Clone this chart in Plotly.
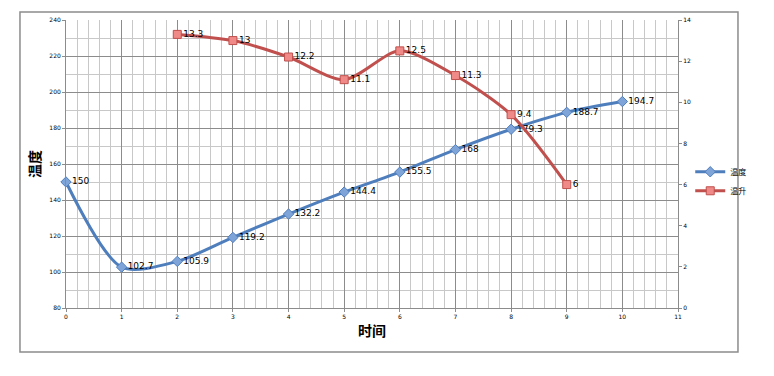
import plotly.graph_objects as go

time_temp = [0, 1, 2, 3, 4, 5, 6, 7, 8, 9, 10]
temperature = [150, 102.7, 105.9, 119.2, 132.2, 144.4, 155.5, 168, 179.3, 188.7, 194.7]
time_rise = [2, 3, 4, 5, 6, 7, 8, 9]
temp_rise = [13.3, 13, 12.2, 11.1, 12.5, 11.3, 9.4, 6]

fig = go.Figure()
fig.add_trace(go.Scatter(
    x=time_temp, y=temperature, name="温度", mode="lines+markers+text",
    line=dict(color="#4F7EBD", width=3, shape="spline", smoothing=0.8),
    marker=dict(symbol="diamond", size=8, color="#7FA4D8", line=dict(color="#4F7EBD", width=1)),
    text=[str(v) for v in temperature], textposition="middle right",
    textfont=dict(family="DejaVu Sans", size=9, color="#000000"),
    cliponaxis=False,
))
fig.add_trace(go.Scatter(
    x=time_rise, y=temp_rise, name="温升", mode="lines+markers+text", yaxis="y2",
    line=dict(color="#C0504D", width=3, shape="spline", smoothing=0.8),
    marker=dict(symbol="square", size=8, color="#F08A88", line=dict(color="#C0504D", width=1)),
    text=[str(v) for v in temp_rise], textposition="middle right",
    textfont=dict(family="DejaVu Sans", size=9, color="#000000"),
    cliponaxis=False,
))

tickfont = dict(family="DejaVu Sans", size=6, color="#000000")
fig.update_layout(
    width=774, height=376,
    margin=dict(l=66, r=96, t=20, b=68),
    paper_bgcolor="white", plot_bgcolor="white",
    font=dict(family="Noto Sans CJK SC"),
    xaxis=dict(
        range=[0, 11], dtick=1, tick0=0, showgrid=True, gridcolor="#8C8C8C", gridwidth=1,
        minor=dict(dtick=0.2, showgrid=True, gridcolor="#C8C8C8", gridwidth=1),
        showline=True, linecolor="#8C8C8C", ticks="outside", ticklen=3, tickcolor="#8C8C8C",
        tickfont=tickfont, zeroline=False,
        title=dict(text="<b>时间</b>", font=dict(family="Noto Sans CJK SC", size=14, color="#000"), standoff=6),
    ),
    yaxis=dict(
        range=[80, 240], dtick=20, showgrid=True, gridcolor="#8C8C8C", gridwidth=1,
        minor=dict(dtick=10, showgrid=True, gridcolor="#C8C8C8", gridwidth=1),
        showline=True, linecolor="#8C8C8C", ticks="outside", ticklen=3, tickcolor="#8C8C8C",
        tickfont=tickfont, zeroline=False,
        title=dict(text="<b>温度</b>", font=dict(family="Noto Sans CJK SC", size=14, color="#000"), standoff=5),
    ),
    yaxis2=dict(
        range=[0, 14], dtick=2, overlaying="y", side="right", showgrid=False,
        showline=True, linecolor="#8C8C8C", ticks="outside", ticklen=3, tickcolor="#8C8C8C",
        tickfont=tickfont, zeroline=False,
    ),
    legend=dict(x=1.02, y=0.44, xanchor="left", yanchor="middle",
                font=dict(family="Noto Sans CJK SC", size=8, color="#000"),
                itemwidth=30, tracegroupgap=0, bgcolor="rgba(0,0,0,0)"),
    showlegend=True,
    shapes=[dict(type="rect", xref="paper", yref="paper",
                 x0=-0.0752, x1=1.098, y0=-0.153, y1=1.0278,
                 line=dict(color="#8C8C8C", width=1.5), fillcolor="rgba(0,0,0,0)", layer="below")],
)

fig.write_html("out.html")
